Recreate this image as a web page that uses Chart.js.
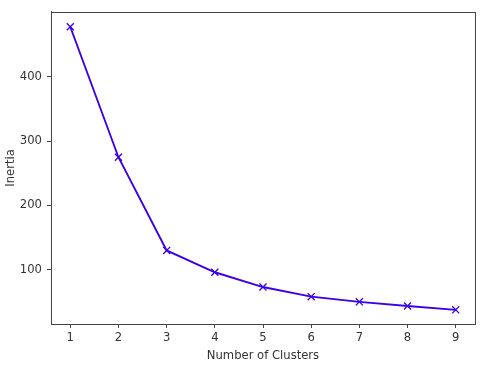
<!DOCTYPE html>
<html>
<head>
<meta charset="utf-8">
<script src="https://cdn.jsdelivr.net/npm/chart.js@4/dist/chart.umd.min.js"></script>
<style>
  html, body { margin: 0; padding: 0; background: #fff; }
  #wrap { width: 485px; height: 367px; }
</style>
</head>
<body>
<div id="wrap"><canvas id="elbow"></canvas></div>
<script>
// Elbow curve: number of clusters vs inertia
const clusters = [1, 2, 3, 4, 5, 6, 7, 8, 9];
const inertia = [478, 275, 130, 96, 73, 58, 50, 43.5, 37.5];
const xTicks = [1, 2, 3, 4, 5, 6, 7, 8, 9];
const yTicks = [100, 200, 300, 400];

const lineColor = '#3c00e6';
const axisColor = '#444';
const textColor = '#333';
const font = { family: "'DejaVu Sans', sans-serif", size: 11.6 };

// top/right spines like matplotlib
const frame = {
    id: 'frame',
    afterDraw(chart) {
        const { ctx, chartArea: a } = chart;
        ctx.save();
        ctx.strokeStyle = axisColor;
        ctx.lineWidth = 1;
        ctx.strokeRect(Math.round(a.left) + 0.5, Math.round(a.top) + 0.5,
            Math.round(a.right - a.left), Math.round(a.bottom - a.top));
        ctx.restore();
    }
};

new Chart(document.getElementById('elbow'), {
    type: 'line',
    data: {
        datasets: [{
            data: clusters.map((c, i) => ({ x: c, y: inertia[i] })),
            borderColor: lineColor,
            borderWidth: 1.9,
            pointStyle: 'crossRot',
            pointRadius: 5,
            pointBorderColor: lineColor,
            pointBorderWidth: 1.3,
            tension: 0
        }]
    },
    options: {
        responsive: true,
        maintainAspectRatio: false,
        animation: false,
        layout: { padding: { top: 8, right: 10, left: 0, bottom: 0 } },
        plugins: { legend: { display: false }, tooltip: { enabled: false } },
        scales: {
            x: {
                type: 'linear',
                min: 0.6,
                max: 9.4,
                afterBuildTicks: s => { s.ticks = xTicks.map(v => ({ value: v })); },
                afterFit: s => { s.height = 43; },
                grid: { drawOnChartArea: false, tickLength: 4, tickColor: axisColor },
                border: { color: axisColor },
                ticks: { color: textColor, font, padding: 3, maxRotation: 0 },
                title: { display: true, text: 'Number of Clusters', color: textColor, font, padding: { top: 1 } }
            },
            y: {
                min: 15.5,
                max: 501,
                afterBuildTicks: s => { s.ticks = yTicks.map(v => ({ value: v })); },
                afterFit: s => { s.width = 51; },
                grid: { drawOnChartArea: false, tickLength: 4, tickColor: axisColor },
                border: { color: axisColor },
                ticks: { color: textColor, font, padding: 5 },
                title: { display: true, text: 'Inertia', color: textColor, font, padding: { bottom: 1 } }
            }
        }
    },
    plugins: [frame]
});
</script>
</body>
</html>
